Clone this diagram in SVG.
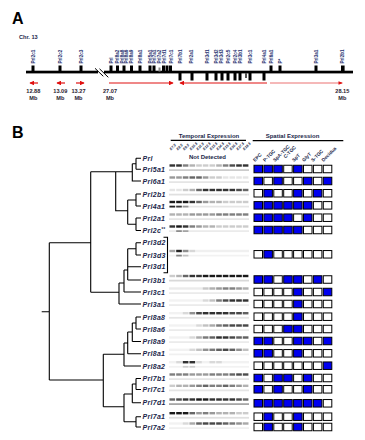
<svg xmlns="http://www.w3.org/2000/svg" width="365" height="440" viewBox="0 0 365 440">
<style>
text{font-family:"Liberation Sans",Arial,sans-serif;fill:#1a1f4a}
.big{font-size:16px;font-weight:bold;fill:#000}
.mb{font-size:5.6px;font-weight:bold;text-anchor:middle;fill:#2a2230}
.g{font-size:4.6px;font-weight:bold;fill:#23306e}
.lf{font-size:7px;font-weight:bold;font-style:italic;letter-spacing:0.3px}
.hd{font-size:6px;font-weight:bold;text-anchor:middle}
.sl{font-size:4.8px;font-weight:bold}
.tl{font-size:3.6px;font-style:italic;font-weight:bold}
.ln{stroke:#000;stroke-width:1.1;fill:none}
.tk{fill:#000}
.e{fill:#fff;stroke:#000;stroke-width:1}
.f{fill:#0000ee;stroke:#000;stroke-width:1}
.m{fill:#000}
.red{stroke:#e01010;stroke-width:1.2;fill:none}
.pink{stroke:#f2a0a0;stroke-width:1.4;fill:none}
</style>
<defs>
<marker id="ah" markerWidth="4" markerHeight="4" refX="3.5" refY="2" orient="auto" markerUnits="strokeWidth"><path d="M0,0 L4,2 L0,4z" fill="#e01010"/></marker>
</defs>

<g id="panelA">
<text class="big" x="12" y="24">A</text>
<text x="19" y="39.3" style="font-size:5.6px;font-weight:bold">Chr. 13</text>
<g id="chromosome">
<rect x="26" y="70.7" width="72" height="2.7" fill="#000"/>
<rect x="104" y="70.7" width="249" height="2.7" fill="#000"/>
<path d="M95,68.3 L103.3,76.3 M99.5,68.8 L108.3,77.3" stroke="#000" stroke-width="1"/>
</g>
<g id="ticks">
<rect class="tk" x="31.5" y="65.5" width="3" height="6"/>
<rect class="tk" x="58.5" y="65.5" width="3" height="6"/>
<rect class="tk" x="79.5" y="65.5" width="3" height="6"/>
<rect class="tk" x="109.5" y="65.5" width="3" height="6"/>
<rect class="tk" x="116" y="65.5" width="3" height="6"/>
<rect class="tk" x="122.5" y="65.5" width="3" height="6"/>
<rect class="tk" x="130" y="65.5" width="3" height="6"/>
<rect class="tk" x="138.5" y="65.5" width="3" height="6"/>
<rect class="tk" x="148.5" y="65.5" width="3" height="6"/>
<rect class="tk" x="152.5" y="65.5" width="3" height="6"/>
<rect x="158.5" y="67.5" width="2" height="4" fill="#888"/>
<rect class="tk" x="162" y="65.5" width="3" height="6"/>
<rect class="tk" x="165.5" y="65.5" width="3" height="6"/>
<rect class="tk" x="169" y="65.5" width="3" height="6"/>
<rect class="tk" x="178.5" y="73" width="3" height="7.5"/>
<rect class="tk" x="190.5" y="73" width="3" height="7.5"/>
<rect class="tk" x="205.5" y="73" width="3" height="7.5"/>
<rect class="tk" x="214.5" y="73" width="3" height="7.5"/>
<rect class="tk" x="220.5" y="73" width="3" height="7.5"/>
<rect class="tk" x="226.5" y="73" width="3" height="7.5"/>
<rect class="tk" x="233.5" y="73" width="3" height="7.5"/>
<rect class="tk" x="238.5" y="73" width="3" height="7.5"/>
<rect x="245" y="73" width="2" height="5" fill="#555"/>
<rect class="tk" x="248.5" y="73" width="3" height="7.5"/>
<rect class="tk" x="262.5" y="73" width="3" height="7.5"/>
<rect class="tk" x="269.5" y="65.5" width="3" height="6"/>
<rect class="tk" x="278.5" y="65.5" width="3" height="6"/>
<rect class="tk" x="314.5" y="65.5" width="3" height="6"/>
<rect class="tk" x="341" y="65.5" width="3.6" height="6"/>
</g>
<g id="genelabels">
<text class="g" transform="translate(34.5,63.5) rotate(-90)">Prl2c1</text>
<text class="g" transform="translate(61.5,63.5) rotate(-90)">Prl2c2</text>
<text class="g" transform="translate(82.5,63.5) rotate(-90)">Prl2c3</text>
<text class="g" transform="translate(112.5,63.5) rotate(-90)">Prl</text>
<text class="g" transform="translate(119,63.5) rotate(-90)">Prl8a2</text>
<text class="g" transform="translate(123.5,63.5) rotate(-90)">Prl8a8</text>
<text class="g" transform="translate(128,63.5) rotate(-90)">Prl8a6</text>
<text class="g" transform="translate(133,63.5) rotate(-90)">Prl8a9</text>
<text class="g" transform="translate(141.5,63.5) rotate(-90)">Prl8a1</text>
<text class="g" transform="translate(151.5,63.5) rotate(-90)">Prl5a1</text>
<text class="g" transform="translate(156,63.5) rotate(-90)">Prl7a1</text>
<text class="g" transform="translate(161,63.5) rotate(-90)">Prl7a2</text>
<text class="g" transform="translate(166,63.5) rotate(-90)">Prl7d1</text>
<text class="g" transform="translate(172.5,63.5) rotate(-90)">Prl7c1</text>
<text class="g" transform="translate(181.5,63.5) rotate(-90)">Prl7b1</text>
<text class="g" transform="translate(192.5,63.5) rotate(-90)">Prl2a1</text>
<text class="g" transform="translate(208.8,63.5) rotate(-90)">Prl3d1</text>
<text class="g" transform="translate(218.2,63.5) rotate(-90)">Prl3d2</text>
<text class="g" transform="translate(222.8,63.5) rotate(-90)">Prl3d3</text>
<text class="g" transform="translate(229.8,63.5) rotate(-90)">Prl2c5</text>
<text class="g" transform="translate(236.5,63.5) rotate(-90)">Prl2c4</text>
<text class="g" transform="translate(241.5,63.5) rotate(-90)">Prl3b1</text>
<text class="g" transform="translate(251.5,63.5) rotate(-90)">Prl3c1</text>
<text class="g" transform="translate(265.8,63.5) rotate(-90)">Prl4a1</text>
<text class="g" transform="translate(272.5,63.5) rotate(-90)">Prl6a1</text>
<text class="g" transform="translate(281.5,63.5) rotate(-90)">P*</text>
<text class="g" transform="translate(317.5,63.5) rotate(-90)">Prl3a1</text>
<text class="g" transform="translate(344.3,63.5) rotate(-90)">Prl2b1</text>
</g>
<g id="strands">
<line class="red" x1="38" y1="83" x2="30" y2="83" marker-end="url(#ah)"/>
<line class="red" x1="65" y1="83" x2="57" y2="83" marker-end="url(#ah)"/>
<line class="red" x1="76" y1="83" x2="84" y2="83" marker-end="url(#ah)"/>
<line class="red" x1="109" y1="83" x2="173" y2="83" marker-end="url(#ah)"/>
<line class="red" x1="267" y1="83" x2="180" y2="83" marker-end="url(#ah)"/>
<line class="pink" x1="270" y1="83" x2="342" y2="83"/>
<path d="M338.5,81.2 L343,83 L338.5,84.8z" fill="#e01010"/>
</g>
<g id="positions">
<text class="mb" x="33.3" y="92.5">12.88</text><text class="mb" x="33.3" y="100">Mb</text>
<text class="mb" x="60.3" y="92.5">13.09</text><text class="mb" x="60.3" y="100">Mb</text>
<text class="mb" x="78.5" y="92.5">13.27</text><text class="mb" x="78.5" y="100">Mb</text>
<text class="mb" x="110" y="92.5">27.07</text><text class="mb" x="110" y="100">Mb</text>
<text class="mb" x="342.3" y="92.5">28.15</text><text class="mb" x="342.3" y="100">Mb</text>
</g>
</g>

<g id="panelB">
<text class="big" x="12" y="137.5">B</text>

<g id="connectors" class="ln">
<path d="M41.7,311.7 H49.3 M49.3,242.7 V380 M49.3,242.7 H90.7 M49.3,380 H103.3
M90.7,171.7 V292.3 M90.7,171.7 H132.3 M115.7,171.7 V210.7 H127.7
M132.3,163.8 V181 H141 M132.3,163.8 H136 M136,158.3 V169.3 M136,158.3 H141 M136,169.3 H141
M127.7,200 V224.3 M127.7,200 H136 M127.7,224.3 H136
M136,194 V206 M136,194 H141 M136,206 H141
M136,218 V230.5 M136,218 H141 M136,230.5 H141
M90.7,292.3 H119
M136,242.7 V255 M136,242.7 H141 M136,255 H141
M127.7,248.8 V280 M127.7,248.8 H136 M127.7,266.7 H141 M127.7,280 H141
M124,270 V292 M124,270 H127.7 M124,292 H141
M119,283 V304 M119,283 H124 M119,304 H141
M103.3,354.3 V406.7 M103.3,354.3 H124
M124,343 V366 M124,366 H141
M127.7,332 V353.7 M124,343 H127.7 M127.7,353.7 H141
M132.3,323 V341.5 M127.7,332 H132.3 M132.3,341.5 H141
M136,317 V329 M132.3,323 H136 M136,317 H141 M136,329 H141
M103.3,406.7 H124 M124,394 V421.8
M132.3,384 V402.7 M124,394 H132.3 M132.3,402.7 H141
M136,378.5 V389.5 M132.3,384 H136 M136,378.5 H141 M136,389.5 H141
M136,416.7 V427 M124,421.8 H136 M136,416.7 H141 M136,427 H141"/>
<path d="M163.5,237.3 H167.5 V272.7 H163.5" stroke-width="1.1"/>
</g>

<g id="leaves">
<text class="lf" x="142.5" y="160.8">Prl</text>
<text class="lf" x="142.5" y="171.8">Prl5a1</text>
<text class="lf" x="142.5" y="183.5">Prl6a1</text>
<text class="lf" x="142.5" y="196.5">Prl2b1</text>
<text class="lf" x="142.5" y="208.5">Prl4a1</text>
<text class="lf" x="142.5" y="220.5">Prl2a1</text>
<text class="lf" x="142.5" y="233">Prl2c<tspan style="font-size:4.5px" dy="-2">**</tspan></text>
<text class="lf" x="142.5" y="245.2">Prl3d2</text>
<text class="lf" x="142.5" y="257.5">Prl3d3</text>
<text class="lf" x="142.5" y="269.2">Prl3d1</text>
<text class="lf" x="142.5" y="282.5">Prl3b1</text>
<text class="lf" x="142.5" y="294.5">Prl3c1</text>
<text class="lf" x="142.5" y="306.5">Prl3a1</text>
<text class="lf" x="142.5" y="319.5">Prl8a8</text>
<text class="lf" x="142.5" y="331.5">Prl8a6</text>
<text class="lf" x="142.5" y="344">Prl8a9</text>
<text class="lf" x="142.5" y="356.2">Prl8a1</text>
<text class="lf" x="142.5" y="368.5">Prl8a2</text>
<text class="lf" x="142.5" y="381">Prl7b1</text>
<text class="lf" x="142.5" y="392">Prl7c1</text>
<text class="lf" x="142.5" y="405.2">Prl7d1</text>
<text class="lf" x="142.5" y="419.2">Prl7a1</text>
<text class="lf" x="142.5" y="429.5">Prl7a2</text>
</g>

<g id="headers">
<text class="hd" x="209" y="138">Temporal Expression</text>
<line x1="170.7" y1="140.3" x2="246" y2="140.3" stroke="#000" stroke-width="1.2"/>
<text class="hd" x="292.5" y="138">Spatial Expression</text>
<line x1="252.7" y1="140.7" x2="343.3" y2="140.7" stroke="#000" stroke-width="1.2"/>
<text class="tl" transform="translate(171,150.5) rotate(-45)">E7.5</text>
<text class="tl" transform="translate(177.7,150.5) rotate(-45)">E8.5</text>
<text class="tl" transform="translate(184.3,150.5) rotate(-45)">E9.5</text>
<text class="tl" transform="translate(191,150.5) rotate(-45)">E10.5</text>
<text class="tl" transform="translate(197.7,150.5) rotate(-45)">E11.5</text>
<text class="tl" transform="translate(204.3,150.5) rotate(-45)">E12.5</text>
<text class="tl" transform="translate(211,150.5) rotate(-45)">E13.5</text>
<text class="tl" transform="translate(217.7,150.5) rotate(-45)">E14.5</text>
<text class="tl" transform="translate(224.3,150.5) rotate(-45)">E15.5</text>
<text class="tl" transform="translate(231,150.5) rotate(-45)">E16.5</text>
<text class="tl" transform="translate(237.7,150.5) rotate(-45)">E17.5</text>
<text class="tl" transform="translate(244.3,150.5) rotate(-45)">E18.5</text>
<text x="207.5" y="159.3" style="font-size:6px;font-weight:bold;text-anchor:middle">Not Detected</text>
<text class="sl" transform="translate(255,162) rotate(-45)">EPC</text>
<text class="sl" transform="translate(265,162) rotate(-45)">P-TGC</text>
<text class="sl" transform="translate(275,162) rotate(-45)">SpA-TGC</text>
<text class="sl" transform="translate(285.5,158.5) rotate(-45)">C-TGC</text>
<text class="sl" transform="translate(294,162) rotate(-45)">SpT</text>
<text class="sl" transform="translate(304,162) rotate(-45)">GlyT</text>
<text class="sl" transform="translate(313,162) rotate(-45)">S-TGC</text>
<text class="sl" transform="translate(323.5,162) rotate(-45)">Decidua</text>
</g>

<g id="gels">
<!-- each row: main band at y-4.7, secondary at y+0.2 -->
<g transform="translate(0,169)">
<rect class="m" x="169.5" y="-4.7" width="5.6" height="2.4" fill-opacity="0.8"/><rect class="m" x="176.2" y="-4.7" width="5.6" height="2.4" fill-opacity="0.8"/><rect class="m" x="182.8" y="-4.7" width="5.6" height="2.4" fill-opacity="0.5"/><rect class="m" x="189.5" y="-4.7" width="5.6" height="2.4" fill-opacity="0.3"/><rect class="m" x="196.2" y="-4.7" width="5.6" height="2.4" fill-opacity="0.2"/><rect class="m" x="202.8" y="-4.7" width="5.6" height="2.4" fill-opacity="0.2"/><rect class="m" x="209.5" y="-4.7" width="5.6" height="2.4" fill-opacity="0.2"/><rect class="m" x="216.2" y="-4.7" width="5.6" height="2.4" fill-opacity="0.3"/><rect class="m" x="222.8" y="-4.7" width="5.6" height="2.4" fill-opacity="0.5"/><rect class="m" x="229.5" y="-4.7" width="5.6" height="2.4" fill-opacity="0.7"/><rect class="m" x="236.2" y="-4.7" width="5.6" height="2.4" fill-opacity="0.8"/><rect class="m" x="242.8" y="-4.7" width="5.6" height="2.4" fill-opacity="0.8"/>
<rect class="m" x="169" y="0.2" width="80" height="1.8" fill-opacity="0.2"/>
</g>
<g transform="translate(0,181)">
<rect class="m" x="169.5" y="-4.7" width="5.6" height="2.4" fill-opacity="0.4"/><rect class="m" x="176.2" y="-4.7" width="5.6" height="2.4" fill-opacity="0.4"/><rect class="m" x="182.8" y="-4.7" width="5.6" height="2.4" fill-opacity="0.5"/><rect class="m" x="189.5" y="-4.7" width="5.6" height="2.4" fill-opacity="0.6"/><rect class="m" x="196.2" y="-4.7" width="5.6" height="2.4" fill-opacity="0.6"/><rect class="m" x="202.8" y="-4.7" width="5.6" height="2.4" fill-opacity="0.4"/><rect class="m" x="209.5" y="-4.7" width="5.6" height="2.4" fill-opacity="0.2"/><rect class="m" x="216.2" y="-4.7" width="5.6" height="2.4" fill-opacity="0.2"/><rect class="m" x="222.8" y="-4.7" width="5.6" height="2.4" fill-opacity="0.1"/><rect class="m" x="229.5" y="-4.7" width="5.6" height="2.4" fill-opacity="0.1"/><rect class="m" x="236.2" y="-4.7" width="5.6" height="2.4" fill-opacity="0.1"/><rect class="m" x="242.8" y="-4.7" width="5.6" height="2.4" fill-opacity="0.1"/>
<rect class="m" x="169" y="0.2" width="80" height="1.8" fill-opacity="0.1"/>
</g>
<g transform="translate(0,193.5)">
<rect class="m" x="169.5" y="-4.7" width="5.6" height="2.4" fill-opacity="0.1"/><rect class="m" x="176.2" y="-4.7" width="5.6" height="2.4" fill-opacity="0.1"/><rect class="m" x="182.8" y="-4.7" width="5.6" height="2.4" fill-opacity="0.2"/><rect class="m" x="189.5" y="-4.7" width="5.6" height="2.4" fill-opacity="0.3"/><rect class="m" x="196.2" y="-4.7" width="5.6" height="2.4" fill-opacity="0.6"/><rect class="m" x="202.8" y="-4.7" width="5.6" height="2.4" fill-opacity="0.8"/><rect class="m" x="209.5" y="-4.7" width="5.6" height="2.4" fill-opacity="0.8"/><rect class="m" x="216.2" y="-4.7" width="5.6" height="2.4" fill-opacity="0.8"/><rect class="m" x="222.8" y="-4.7" width="5.6" height="2.4" fill-opacity="0.8"/><rect class="m" x="229.5" y="-4.7" width="5.6" height="2.4" fill-opacity="0.8"/><rect class="m" x="236.2" y="-4.7" width="5.6" height="2.4" fill-opacity="0.7"/><rect class="m" x="242.8" y="-4.7" width="5.6" height="2.4" fill-opacity="0.6"/>
<rect class="m" x="169" y="0.2" width="80" height="1.8" fill-opacity="0.12"/>
</g>
<g transform="translate(0,205.5)">
<rect class="m" x="169.5" y="-4.7" width="5.6" height="2.4" fill-opacity="0.9"/><rect class="m" x="176.2" y="-4.7" width="5.6" height="2.4" fill-opacity="0.9"/><rect class="m" x="182.8" y="-4.7" width="5.6" height="2.4" fill-opacity="0.9"/><rect class="m" x="189.5" y="-4.7" width="5.6" height="2.4" fill-opacity="0.8"/><rect class="m" x="196.2" y="-4.7" width="5.6" height="2.4" fill-opacity="0.6"/><rect class="m" x="202.8" y="-4.7" width="5.6" height="2.4" fill-opacity="0.4"/><rect class="m" x="209.5" y="-4.7" width="5.6" height="2.4" fill-opacity="0.3"/><rect class="m" x="216.2" y="-4.7" width="5.6" height="2.4" fill-opacity="0.3"/><rect class="m" x="222.8" y="-4.7" width="5.6" height="2.4" fill-opacity="0.2"/><rect class="m" x="229.5" y="-4.7" width="5.6" height="2.4" fill-opacity="0.2"/><rect class="m" x="236.2" y="-4.7" width="5.6" height="2.4" fill-opacity="0.2"/><rect class="m" x="242.8" y="-4.7" width="5.6" height="2.4" fill-opacity="0.2"/>
<rect class="m" x="169" y="0.2" width="80" height="1.8" fill-opacity="0.1"/><rect class="m" x="169.5" y="0.2" width="5.6" height="1.8" fill-opacity="0.85"/><rect class="m" x="176.2" y="0.2" width="5.6" height="1.8" fill-opacity="0.75"/><rect class="m" x="182.8" y="0.2" width="5.6" height="1.8" fill-opacity="0.35"/>
</g>
<g transform="translate(0,218)">
<rect class="m" x="169.5" y="-4.7" width="5.6" height="2.4" fill-opacity="0.3"/><rect class="m" x="176.2" y="-4.7" width="5.6" height="2.4" fill-opacity="0.3"/><rect class="m" x="182.8" y="-4.7" width="5.6" height="2.4" fill-opacity="0.3"/><rect class="m" x="189.5" y="-4.7" width="5.6" height="2.4" fill-opacity="0.4"/><rect class="m" x="196.2" y="-4.7" width="5.6" height="2.4" fill-opacity="0.4"/><rect class="m" x="202.8" y="-4.7" width="5.6" height="2.4" fill-opacity="0.4"/><rect class="m" x="209.5" y="-4.7" width="5.6" height="2.4" fill-opacity="0.4"/><rect class="m" x="216.2" y="-4.7" width="5.6" height="2.4" fill-opacity="0.5"/><rect class="m" x="222.8" y="-4.7" width="5.6" height="2.4" fill-opacity="0.5"/><rect class="m" x="229.5" y="-4.7" width="5.6" height="2.4" fill-opacity="0.5"/><rect class="m" x="236.2" y="-4.7" width="5.6" height="2.4" fill-opacity="0.5"/><rect class="m" x="242.8" y="-4.7" width="5.6" height="2.4" fill-opacity="0.5"/>
<rect class="m" x="169" y="0.2" width="80" height="1.8" fill-opacity="0.1"/>
</g>
<g transform="translate(0,230)">
<rect class="m" x="169.5" y="-4.7" width="5.6" height="2.4" fill-opacity="0.8"/><rect class="m" x="176.2" y="-4.7" width="5.6" height="2.4" fill-opacity="0.9"/><rect class="m" x="182.8" y="-4.7" width="5.6" height="2.4" fill-opacity="0.8"/><rect class="m" x="189.5" y="-4.7" width="5.6" height="2.4" fill-opacity="0.5"/><rect class="m" x="196.2" y="-4.7" width="5.6" height="2.4" fill-opacity="0.4"/><rect class="m" x="202.8" y="-4.7" width="5.6" height="2.4" fill-opacity="0.3"/><rect class="m" x="209.5" y="-4.7" width="5.6" height="2.4" fill-opacity="0.3"/><rect class="m" x="216.2" y="-4.7" width="5.6" height="2.4" fill-opacity="0.2"/><rect class="m" x="222.8" y="-4.7" width="5.6" height="2.4" fill-opacity="0.2"/><rect class="m" x="229.5" y="-4.7" width="5.6" height="2.4" fill-opacity="0.2"/><rect class="m" x="236.2" y="-4.7" width="5.6" height="2.4" fill-opacity="0.2"/><rect class="m" x="242.8" y="-4.7" width="5.6" height="2.4" fill-opacity="0.2"/>
<rect class="m" x="169" y="0.2" width="80" height="1.8" fill-opacity="0.08"/><rect class="m" x="176.2" y="0.2" width="5.6" height="1.8" fill-opacity="0.4"/><rect class="m" x="182.8" y="0.2" width="5.6" height="1.8" fill-opacity="0.3"/>
</g>
<g transform="translate(0,254.5)">
<rect class="m" x="169" y="-4.7" width="80" height="2.4" fill-opacity="0.06"/>
<rect class="m" x="169.5" y="-4.7" width="5.6" height="2.4" fill-opacity="0.3"/><rect class="m" x="176.2" y="-4.7" width="5.6" height="2.4" fill-opacity="0.85"/><rect class="m" x="182.8" y="-4.7" width="5.6" height="2.4" fill-opacity="0.4"/><rect class="m" x="189.5" y="-4.7" width="5.6" height="2.4" fill-opacity="0.1"/>
<rect class="m" x="169" y="0.2" width="80" height="1.8" fill-opacity="0.05"/><rect class="m" x="176.2" y="0.2" width="5.6" height="1.8" fill-opacity="0.45"/><rect class="m" x="182.8" y="0.2" width="5.6" height="1.8" fill-opacity="0.2"/>
</g>
<g transform="translate(0,279.5)">
<rect class="m" x="169.5" y="-4.7" width="5.6" height="2.4" fill-opacity="0.2"/><rect class="m" x="176.2" y="-4.7" width="5.6" height="2.4" fill-opacity="0.3"/><rect class="m" x="182.8" y="-4.7" width="5.6" height="2.4" fill-opacity="0.6"/><rect class="m" x="189.5" y="-4.7" width="5.6" height="2.4" fill-opacity="0.8"/><rect class="m" x="196.2" y="-4.7" width="5.6" height="2.4" fill-opacity="0.8"/><rect class="m" x="202.8" y="-4.7" width="5.6" height="2.4" fill-opacity="0.9"/><rect class="m" x="209.5" y="-4.7" width="5.6" height="2.4" fill-opacity="0.9"/><rect class="m" x="216.2" y="-4.7" width="5.6" height="2.4" fill-opacity="0.9"/><rect class="m" x="222.8" y="-4.7" width="5.6" height="2.4" fill-opacity="0.9"/><rect class="m" x="229.5" y="-4.7" width="5.6" height="2.4" fill-opacity="0.9"/><rect class="m" x="236.2" y="-4.7" width="5.6" height="2.4" fill-opacity="0.9"/><rect class="m" x="242.8" y="-4.7" width="5.6" height="2.4" fill-opacity="0.9"/>
<rect class="m" x="169" y="0.2" width="80" height="1.8" fill-opacity="0.15"/>
</g>
<g transform="translate(0,292)">
<rect class="m" x="169" y="-4.7" width="80" height="2.4" fill-opacity="0.08"/>
<rect class="m" x="202.8" y="-4.7" width="5.6" height="2.4" fill-opacity="0.15"/><rect class="m" x="209.5" y="-4.7" width="5.6" height="2.4" fill-opacity="0.25"/><rect class="m" x="216.2" y="-4.7" width="5.6" height="2.4" fill-opacity="0.35"/><rect class="m" x="222.8" y="-4.7" width="5.6" height="2.4" fill-opacity="0.45"/><rect class="m" x="229.5" y="-4.7" width="5.6" height="2.4" fill-opacity="0.45"/><rect class="m" x="236.2" y="-4.7" width="5.6" height="2.4" fill-opacity="0.35"/><rect class="m" x="242.8" y="-4.7" width="5.6" height="2.4" fill-opacity="0.25"/>
<rect class="m" x="169" y="0.2" width="80" height="1.8" fill-opacity="0.08"/>
</g>
<g transform="translate(0,304)">
<rect class="m" x="169" y="-4.7" width="80" height="2.4" fill-opacity="0.05"/>
<rect class="m" x="202.8" y="-4.7" width="5.6" height="2.4" fill-opacity="0.1"/><rect class="m" x="209.5" y="-4.7" width="5.6" height="2.4" fill-opacity="0.2"/><rect class="m" x="216.2" y="-4.7" width="5.6" height="2.4" fill-opacity="0.5"/><rect class="m" x="222.8" y="-4.7" width="5.6" height="2.4" fill-opacity="0.7"/><rect class="m" x="229.5" y="-4.7" width="5.6" height="2.4" fill-opacity="0.8"/><rect class="m" x="236.2" y="-4.7" width="5.6" height="2.4" fill-opacity="0.8"/><rect class="m" x="242.8" y="-4.7" width="5.6" height="2.4" fill-opacity="0.8"/>
<rect class="m" x="169" y="0.2" width="80" height="1.8" fill-opacity="0.08"/>
</g>
<g transform="translate(0,316.7)">
<rect class="m" x="169" y="-4.7" width="80" height="2.4" fill-opacity="0.05"/>
<rect class="m" x="182.8" y="-4.7" width="5.6" height="2.4" fill-opacity="0.1"/><rect class="m" x="189.5" y="-4.7" width="5.6" height="2.4" fill-opacity="0.4"/><rect class="m" x="196.2" y="-4.7" width="5.6" height="2.4" fill-opacity="0.7"/><rect class="m" x="202.8" y="-4.7" width="5.6" height="2.4" fill-opacity="0.8"/><rect class="m" x="209.5" y="-4.7" width="5.6" height="2.4" fill-opacity="0.8"/><rect class="m" x="216.2" y="-4.7" width="5.6" height="2.4" fill-opacity="0.8"/><rect class="m" x="222.8" y="-4.7" width="5.6" height="2.4" fill-opacity="0.8"/><rect class="m" x="229.5" y="-4.7" width="5.6" height="2.4" fill-opacity="0.7"/><rect class="m" x="236.2" y="-4.7" width="5.6" height="2.4" fill-opacity="0.7"/><rect class="m" x="242.8" y="-4.7" width="5.6" height="2.4" fill-opacity="0.6"/>
<rect class="m" x="169" y="0.2" width="80" height="1.8" fill-opacity="0.1"/>
</g>
<g transform="translate(0,329)">
<rect class="m" x="169" y="-4.7" width="80" height="2.4" fill-opacity="0.05"/>
<rect class="m" x="196.2" y="-4.7" width="5.6" height="2.4" fill-opacity="0.1"/><rect class="m" x="202.8" y="-4.7" width="5.6" height="2.4" fill-opacity="0.2"/><rect class="m" x="209.5" y="-4.7" width="5.6" height="2.4" fill-opacity="0.3"/><rect class="m" x="216.2" y="-4.7" width="5.6" height="2.4" fill-opacity="0.5"/><rect class="m" x="222.8" y="-4.7" width="5.6" height="2.4" fill-opacity="0.6"/><rect class="m" x="229.5" y="-4.7" width="5.6" height="2.4" fill-opacity="0.7"/><rect class="m" x="236.2" y="-4.7" width="5.6" height="2.4" fill-opacity="0.7"/><rect class="m" x="242.8" y="-4.7" width="5.6" height="2.4" fill-opacity="0.7"/>
<rect class="m" x="169" y="0.2" width="80" height="1.8" fill-opacity="0.08"/>
</g>
<g transform="translate(0,341)">
<rect class="m" x="169" y="-4.7" width="80" height="2.4" fill-opacity="0.05"/>
<rect class="m" x="189.5" y="-4.7" width="5.6" height="2.4" fill-opacity="0.1"/><rect class="m" x="196.2" y="-4.7" width="5.6" height="2.4" fill-opacity="0.3"/><rect class="m" x="202.8" y="-4.7" width="5.6" height="2.4" fill-opacity="0.5"/><rect class="m" x="209.5" y="-4.7" width="5.6" height="2.4" fill-opacity="0.6"/><rect class="m" x="216.2" y="-4.7" width="5.6" height="2.4" fill-opacity="0.8"/><rect class="m" x="222.8" y="-4.7" width="5.6" height="2.4" fill-opacity="0.8"/><rect class="m" x="229.5" y="-4.7" width="5.6" height="2.4" fill-opacity="0.7"/><rect class="m" x="236.2" y="-4.7" width="5.6" height="2.4" fill-opacity="0.6"/><rect class="m" x="242.8" y="-4.7" width="5.6" height="2.4" fill-opacity="0.6"/>
<rect class="m" x="169" y="0.2" width="80" height="1.8" fill-opacity="0.08"/>
</g>
<g transform="translate(0,353.3)">
<rect class="m" x="169" y="-4.7" width="80" height="2.4" fill-opacity="0.05"/>
<rect class="m" x="189.5" y="-4.7" width="5.6" height="2.4" fill-opacity="0.1"/><rect class="m" x="196.2" y="-4.7" width="5.6" height="2.4" fill-opacity="0.2"/><rect class="m" x="202.8" y="-4.7" width="5.6" height="2.4" fill-opacity="0.4"/><rect class="m" x="209.5" y="-4.7" width="5.6" height="2.4" fill-opacity="0.5"/><rect class="m" x="216.2" y="-4.7" width="5.6" height="2.4" fill-opacity="0.6"/><rect class="m" x="222.8" y="-4.7" width="5.6" height="2.4" fill-opacity="0.7"/><rect class="m" x="229.5" y="-4.7" width="5.6" height="2.4" fill-opacity="0.6"/><rect class="m" x="236.2" y="-4.7" width="5.6" height="2.4" fill-opacity="0.4"/><rect class="m" x="242.8" y="-4.7" width="5.6" height="2.4" fill-opacity="0.2"/>
<rect class="m" x="169" y="0.2" width="80" height="1.8" fill-opacity="0.06"/>
</g>
<g transform="translate(0,365.7)">
<rect class="m" x="169" y="-4.7" width="80" height="2.4" fill-opacity="0.05"/>
<rect class="m" x="176.2" y="-4.7" width="5.6" height="2.4" fill-opacity="0.1"/><rect class="m" x="182.8" y="-4.7" width="5.6" height="2.4" fill-opacity="0.8"/><rect class="m" x="189.5" y="-4.7" width="5.6" height="2.4" fill-opacity="0.8"/><rect class="m" x="196.2" y="-4.7" width="5.6" height="2.4" fill-opacity="0.1"/><rect class="m" x="209.5" y="-4.7" width="5.6" height="2.4" fill-opacity="0.1"/><rect class="m" x="216.2" y="-4.7" width="5.6" height="2.4" fill-opacity="0.1"/>
<rect class="m" x="169" y="0.2" width="80" height="1.8" fill-opacity="0.05"/><rect class="m" x="182.8" y="0.2" width="5.6" height="1.8" fill-opacity="0.15"/><rect class="m" x="189.5" y="0.2" width="5.6" height="1.8" fill-opacity="0.15"/>
</g>
<g transform="translate(0,378)">
<rect class="m" x="169.5" y="-4.7" width="5.6" height="2.4" fill-opacity="0.5"/><rect class="m" x="176.2" y="-4.7" width="5.6" height="2.4" fill-opacity="0.5"/><rect class="m" x="182.8" y="-4.7" width="5.6" height="2.4" fill-opacity="0.5"/><rect class="m" x="189.5" y="-4.7" width="5.6" height="2.4" fill-opacity="0.4"/><rect class="m" x="196.2" y="-4.7" width="5.6" height="2.4" fill-opacity="0.4"/><rect class="m" x="202.8" y="-4.7" width="5.6" height="2.4" fill-opacity="0.4"/><rect class="m" x="209.5" y="-4.7" width="5.6" height="2.4" fill-opacity="0.5"/><rect class="m" x="216.2" y="-4.7" width="5.6" height="2.4" fill-opacity="0.5"/><rect class="m" x="222.8" y="-4.7" width="5.6" height="2.4" fill-opacity="0.5"/><rect class="m" x="229.5" y="-4.7" width="5.6" height="2.4" fill-opacity="0.6"/><rect class="m" x="236.2" y="-4.7" width="5.6" height="2.4" fill-opacity="0.7"/><rect class="m" x="242.8" y="-4.7" width="5.6" height="2.4" fill-opacity="0.7"/>
<rect class="m" x="169" y="0.2" width="80" height="1.8" fill-opacity="0.1"/>
</g>
<g transform="translate(0,389.3)">
<rect class="m" x="169.5" y="-4.7" width="5.6" height="2.4" fill-opacity="0.2"/><rect class="m" x="176.2" y="-4.7" width="5.6" height="2.4" fill-opacity="0.3"/><rect class="m" x="182.8" y="-4.7" width="5.6" height="2.4" fill-opacity="0.3"/><rect class="m" x="189.5" y="-4.7" width="5.6" height="2.4" fill-opacity="0.4"/><rect class="m" x="196.2" y="-4.7" width="5.6" height="2.4" fill-opacity="0.5"/><rect class="m" x="202.8" y="-4.7" width="5.6" height="2.4" fill-opacity="0.6"/><rect class="m" x="209.5" y="-4.7" width="5.6" height="2.4" fill-opacity="0.5"/><rect class="m" x="216.2" y="-4.7" width="5.6" height="2.4" fill-opacity="0.5"/><rect class="m" x="222.8" y="-4.7" width="5.6" height="2.4" fill-opacity="0.6"/><rect class="m" x="229.5" y="-4.7" width="5.6" height="2.4" fill-opacity="0.5"/><rect class="m" x="236.2" y="-4.7" width="5.6" height="2.4" fill-opacity="0.4"/><rect class="m" x="242.8" y="-4.7" width="5.6" height="2.4" fill-opacity="0.3"/>
<rect class="m" x="169" y="0.2" width="80" height="1.8" fill-opacity="0.1"/>
</g>
<g transform="translate(0,403)">
<rect class="m" x="169.5" y="-4.7" width="5.6" height="2.4" fill-opacity="0.6"/><rect class="m" x="176.2" y="-4.7" width="5.6" height="2.4" fill-opacity="0.7"/><rect class="m" x="182.8" y="-4.7" width="5.6" height="2.4" fill-opacity="0.8"/><rect class="m" x="189.5" y="-4.7" width="5.6" height="2.4" fill-opacity="0.8"/><rect class="m" x="196.2" y="-4.7" width="5.6" height="2.4" fill-opacity="0.9"/><rect class="m" x="202.8" y="-4.7" width="5.6" height="2.4" fill-opacity="0.9"/><rect class="m" x="209.5" y="-4.7" width="5.6" height="2.4" fill-opacity="0.8"/><rect class="m" x="216.2" y="-4.7" width="5.6" height="2.4" fill-opacity="0.8"/><rect class="m" x="222.8" y="-4.7" width="5.6" height="2.4" fill-opacity="0.8"/><rect class="m" x="229.5" y="-4.7" width="5.6" height="2.4" fill-opacity="0.8"/><rect class="m" x="236.2" y="-4.7" width="5.6" height="2.4" fill-opacity="0.7"/><rect class="m" x="242.8" y="-4.7" width="5.6" height="2.4" fill-opacity="0.6"/>
<rect class="m" x="169" y="0.2" width="80" height="1.8" fill-opacity="0.35"/>
</g>
<g transform="translate(0,416.7)">
<rect class="m" x="169.5" y="-4.7" width="5.6" height="2.4" fill-opacity="0.9"/><rect class="m" x="176.2" y="-4.7" width="5.6" height="2.4" fill-opacity="0.9"/><rect class="m" x="182.8" y="-4.7" width="5.6" height="2.4" fill-opacity="0.9"/><rect class="m" x="189.5" y="-4.7" width="5.6" height="2.4" fill-opacity="0.6"/><rect class="m" x="196.2" y="-4.7" width="5.6" height="2.4" fill-opacity="0.4"/><rect class="m" x="202.8" y="-4.7" width="5.6" height="2.4" fill-opacity="0.5"/><rect class="m" x="209.5" y="-4.7" width="5.6" height="2.4" fill-opacity="0.4"/><rect class="m" x="216.2" y="-4.7" width="5.6" height="2.4" fill-opacity="0.3"/><rect class="m" x="222.8" y="-4.7" width="5.6" height="2.4" fill-opacity="0.3"/><rect class="m" x="229.5" y="-4.7" width="5.6" height="2.4" fill-opacity="0.3"/><rect class="m" x="236.2" y="-4.7" width="5.6" height="2.4" fill-opacity="0.2"/><rect class="m" x="242.8" y="-4.7" width="5.6" height="2.4" fill-opacity="0.2"/>
<rect class="m" x="169" y="0.2" width="80" height="1.8" fill-opacity="0.12"/>
</g>
<g transform="translate(0,427)">
<rect class="m" x="169" y="-4.7" width="80" height="2.4" fill-opacity="0.05"/>
<rect class="m" x="182.8" y="-4.7" width="5.6" height="2.4" fill-opacity="0.1"/><rect class="m" x="189.5" y="-4.7" width="5.6" height="2.4" fill-opacity="0.3"/><rect class="m" x="196.2" y="-4.7" width="5.6" height="2.4" fill-opacity="0.6"/><rect class="m" x="202.8" y="-4.7" width="5.6" height="2.4" fill-opacity="0.7"/><rect class="m" x="209.5" y="-4.7" width="5.6" height="2.4" fill-opacity="0.7"/><rect class="m" x="216.2" y="-4.7" width="5.6" height="2.4" fill-opacity="0.7"/><rect class="m" x="222.8" y="-4.7" width="5.6" height="2.4" fill-opacity="0.6"/><rect class="m" x="229.5" y="-4.7" width="5.6" height="2.4" fill-opacity="0.5"/><rect class="m" x="236.2" y="-4.7" width="5.6" height="2.4" fill-opacity="0.4"/><rect class="m" x="242.8" y="-4.7" width="5.6" height="2.4" fill-opacity="0.3"/>
<rect class="m" x="169" y="0.2" width="80" height="1.8" fill-opacity="0.06"/>
</g>
</g>

<g id="spatial">
<g transform="translate(0,165.25)"><rect class="f" x="254" width="8.5" height="7.5"/><rect class="f" x="263.9" width="8.5" height="7.5"/><rect class="f" x="273.8" width="8.5" height="7.5"/><rect class="e" x="283.7" width="8.5" height="7.5"/><rect class="f" x="293.6" width="8.5" height="7.5"/><rect class="e" x="303.5" width="8.5" height="7.5"/><rect class="e" x="313.4" width="8.5" height="7.5"/><rect class="e" x="323.3" width="8.5" height="7.5"/></g>
<g transform="translate(0,177.25)"><rect class="f" x="254" width="8.5" height="7.5"/><rect class="e" x="263.9" width="8.5" height="7.5"/><rect class="f" x="273.8" width="8.5" height="7.5"/><rect class="e" x="283.7" width="8.5" height="7.5"/><rect class="e" x="293.6" width="8.5" height="7.5"/><rect class="f" x="303.5" width="8.5" height="7.5"/><rect class="e" x="313.4" width="8.5" height="7.5"/><rect class="f" x="323.3" width="8.5" height="7.5"/></g>
<g transform="translate(0,189.5)"><rect class="e" x="254" width="8.5" height="7.5"/><rect class="f" x="263.9" width="8.5" height="7.5"/><rect class="e" x="273.8" width="8.5" height="7.5"/><rect class="e" x="283.7" width="8.5" height="7.5"/><rect class="f" x="293.6" width="8.5" height="7.5"/><rect class="e" x="303.5" width="8.5" height="7.5"/><rect class="f" x="313.4" width="8.5" height="7.5"/><rect class="e" x="323.3" width="8.5" height="7.5"/></g>
<g transform="translate(0,201.6)"><rect class="f" x="254" width="8.5" height="7.5"/><rect class="f" x="263.9" width="8.5" height="7.5"/><rect class="f" x="273.8" width="8.5" height="7.5"/><rect class="f" x="283.7" width="8.5" height="7.5"/><rect class="f" x="293.6" width="8.5" height="7.5"/><rect class="f" x="303.5" width="8.5" height="7.5"/><rect class="e" x="313.4" width="8.5" height="7.5"/><rect class="e" x="323.3" width="8.5" height="7.5"/></g>
<g transform="translate(0,213.95)"><rect class="f" x="254" width="8.5" height="7.5"/><rect class="f" x="263.9" width="8.5" height="7.5"/><rect class="f" x="273.8" width="8.5" height="7.5"/><rect class="f" x="283.7" width="8.5" height="7.5"/><rect class="e" x="293.6" width="8.5" height="7.5"/><rect class="f" x="303.5" width="8.5" height="7.5"/><rect class="e" x="313.4" width="8.5" height="7.5"/><rect class="e" x="323.3" width="8.5" height="7.5"/></g>
<g transform="translate(0,226.25)"><rect class="f" x="254" width="8.5" height="7.5"/><rect class="f" x="263.9" width="8.5" height="7.5"/><rect class="f" x="273.8" width="8.5" height="7.5"/><rect class="f" x="283.7" width="8.5" height="7.5"/><rect class="f" x="293.6" width="8.5" height="7.5"/><rect class="e" x="303.5" width="8.5" height="7.5"/><rect class="e" x="313.4" width="8.5" height="7.5"/><rect class="e" x="323.3" width="8.5" height="7.5"/></g>
<g transform="translate(0,250.55)"><rect class="e" x="254" width="8.5" height="7.5"/><rect class="f" x="263.9" width="8.5" height="7.5"/><rect class="e" x="273.8" width="8.5" height="7.5"/><rect class="e" x="283.7" width="8.5" height="7.5"/><rect class="e" x="293.6" width="8.5" height="7.5"/><rect class="e" x="303.5" width="8.5" height="7.5"/><rect class="e" x="313.4" width="8.5" height="7.5"/><rect class="e" x="323.3" width="8.5" height="7.5"/></g>
<g transform="translate(0,275.75)"><rect class="f" x="254" width="8.5" height="7.5"/><rect class="f" x="263.9" width="8.5" height="7.5"/><rect class="e" x="273.8" width="8.5" height="7.5"/><rect class="f" x="283.7" width="8.5" height="7.5"/><rect class="f" x="293.6" width="8.5" height="7.5"/><rect class="e" x="303.5" width="8.5" height="7.5"/><rect class="f" x="313.4" width="8.5" height="7.5"/><rect class="e" x="323.3" width="8.5" height="7.5"/></g>
<g transform="translate(0,288.25)"><rect class="e" x="254" width="8.5" height="7.5"/><rect class="e" x="263.9" width="8.5" height="7.5"/><rect class="e" x="273.8" width="8.5" height="7.5"/><rect class="e" x="283.7" width="8.5" height="7.5"/><rect class="f" x="293.6" width="8.5" height="7.5"/><rect class="e" x="303.5" width="8.5" height="7.5"/><rect class="e" x="313.4" width="8.5" height="7.5"/><rect class="f" x="323.3" width="8.5" height="7.5"/></g>
<g transform="translate(0,300.25)"><rect class="e" x="254" width="8.5" height="7.5"/><rect class="e" x="263.9" width="8.5" height="7.5"/><rect class="e" x="273.8" width="8.5" height="7.5"/><rect class="e" x="283.7" width="8.5" height="7.5"/><rect class="f" x="293.6" width="8.5" height="7.5"/><rect class="e" x="303.5" width="8.5" height="7.5"/><rect class="e" x="313.4" width="8.5" height="7.5"/><rect class="e" x="323.3" width="8.5" height="7.5"/></g>
<g transform="translate(0,312.95)"><rect class="e" x="254" width="8.5" height="7.5"/><rect class="e" x="263.9" width="8.5" height="7.5"/><rect class="e" x="273.8" width="8.5" height="7.5"/><rect class="e" x="283.7" width="8.5" height="7.5"/><rect class="f" x="293.6" width="8.5" height="7.5"/><rect class="e" x="303.5" width="8.5" height="7.5"/><rect class="e" x="313.4" width="8.5" height="7.5"/><rect class="e" x="323.3" width="8.5" height="7.5"/></g>
<g transform="translate(0,325.25)"><rect class="e" x="254" width="8.5" height="7.5"/><rect class="e" x="263.9" width="8.5" height="7.5"/><rect class="e" x="273.8" width="8.5" height="7.5"/><rect class="f" x="283.7" width="8.5" height="7.5"/><rect class="f" x="293.6" width="8.5" height="7.5"/><rect class="e" x="303.5" width="8.5" height="7.5"/><rect class="e" x="313.4" width="8.5" height="7.5"/><rect class="e" x="323.3" width="8.5" height="7.5"/></g>
<g transform="translate(0,337.25)"><rect class="f" x="254" width="8.5" height="7.5"/><rect class="f" x="263.9" width="8.5" height="7.5"/><rect class="e" x="273.8" width="8.5" height="7.5"/><rect class="e" x="283.7" width="8.5" height="7.5"/><rect class="f" x="293.6" width="8.5" height="7.5"/><rect class="f" x="303.5" width="8.5" height="7.5"/><rect class="e" x="313.4" width="8.5" height="7.5"/><rect class="f" x="323.3" width="8.5" height="7.5"/></g>
<g transform="translate(0,349.55)"><rect class="f" x="254" width="8.5" height="7.5"/><rect class="f" x="263.9" width="8.5" height="7.5"/><rect class="e" x="273.8" width="8.5" height="7.5"/><rect class="e" x="283.7" width="8.5" height="7.5"/><rect class="f" x="293.6" width="8.5" height="7.5"/><rect class="e" x="303.5" width="8.5" height="7.5"/><rect class="e" x="313.4" width="8.5" height="7.5"/><rect class="e" x="323.3" width="8.5" height="7.5"/></g>
<g transform="translate(0,361.95)"><rect class="e" x="254" width="8.5" height="7.5"/><rect class="e" x="263.9" width="8.5" height="7.5"/><rect class="e" x="273.8" width="8.5" height="7.5"/><rect class="e" x="283.7" width="8.5" height="7.5"/><rect class="e" x="293.6" width="8.5" height="7.5"/><rect class="e" x="303.5" width="8.5" height="7.5"/><rect class="e" x="313.4" width="8.5" height="7.5"/><rect class="f" x="323.3" width="8.5" height="7.5"/></g>
<g transform="translate(0,374.25)"><rect class="f" x="254" width="8.5" height="7.5"/><rect class="e" x="263.9" width="8.5" height="7.5"/><rect class="f" x="273.8" width="8.5" height="7.5"/><rect class="f" x="283.7" width="8.5" height="7.5"/><rect class="e" x="293.6" width="8.5" height="7.5"/><rect class="f" x="303.5" width="8.5" height="7.5"/><rect class="e" x="313.4" width="8.5" height="7.5"/><rect class="e" x="323.3" width="8.5" height="7.5"/></g>
<g transform="translate(0,385.55)"><rect class="f" x="254" width="8.5" height="7.5"/><rect class="e" x="263.9" width="8.5" height="7.5"/><rect class="f" x="273.8" width="8.5" height="7.5"/><rect class="e" x="283.7" width="8.5" height="7.5"/><rect class="e" x="293.6" width="8.5" height="7.5"/><rect class="f" x="303.5" width="8.5" height="7.5"/><rect class="e" x="313.4" width="8.5" height="7.5"/><rect class="e" x="323.3" width="8.5" height="7.5"/></g>
<g transform="translate(0,399.55)"><rect class="f" x="254" width="8.5" height="7.5"/><rect class="f" x="263.9" width="8.5" height="7.5"/><rect class="f" x="273.8" width="8.5" height="7.5"/><rect class="f" x="283.7" width="8.5" height="7.5"/><rect class="f" x="293.6" width="8.5" height="7.5"/><rect class="f" x="303.5" width="8.5" height="7.5"/><rect class="f" x="313.4" width="8.5" height="7.5"/><rect class="e" x="323.3" width="8.5" height="7.5"/></g>
<g transform="translate(0,412.95)"><rect class="e" x="254" width="8.5" height="7.5"/><rect class="f" x="263.9" width="8.5" height="7.5"/><rect class="e" x="273.8" width="8.5" height="7.5"/><rect class="e" x="283.7" width="8.5" height="7.5"/><rect class="f" x="293.6" width="8.5" height="7.5"/><rect class="e" x="303.5" width="8.5" height="7.5"/><rect class="e" x="313.4" width="8.5" height="7.5"/><rect class="e" x="323.3" width="8.5" height="7.5"/></g>
<g transform="translate(0,423.25)"><rect class="e" x="254" width="8.5" height="7.5"/><rect class="f" x="263.9" width="8.5" height="7.5"/><rect class="e" x="273.8" width="8.5" height="7.5"/><rect class="e" x="283.7" width="8.5" height="7.5"/><rect class="f" x="293.6" width="8.5" height="7.5"/><rect class="e" x="303.5" width="8.5" height="7.5"/><rect class="e" x="313.4" width="8.5" height="7.5"/><rect class="e" x="323.3" width="8.5" height="7.5"/></g>
</g>
</g>
</svg>
